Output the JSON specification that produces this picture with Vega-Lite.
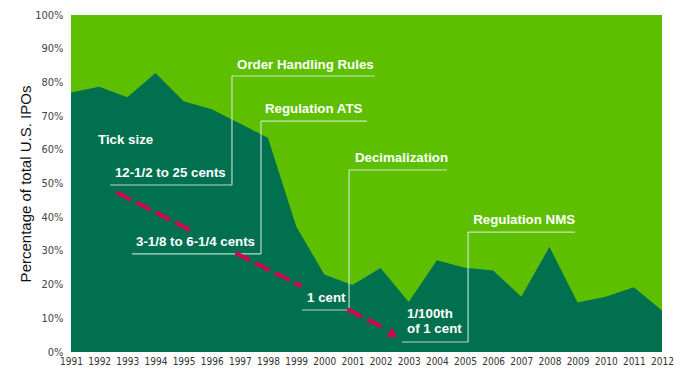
{
  "$schema": "https://vega.github.io/schema/vega-lite/v6.json",
  "width": 591,
  "height": 337,
  "autosize": {"type": "none"},
  "padding": {"left": 71, "top": 15, "right": 19, "bottom": 21},
  "background": "white",
  "config": {
    "view": {"stroke": null},
    "font": "Liberation Sans",
    "axis": {"labelOverlap": false, "labelFlush": false, "grid": false, "domain": false, "ticks": false},
    "axisX": {"labelFontSize": 10, "labelColor": "#333333", "labelPadding": 4, "labelFont": "Liberation Sans Narrow, DejaVu Sans Condensed, Liberation Sans"},
    "axisY": {"labelFontSize": 11, "labelColor": "#444444", "labelPadding": 8, "labelFont": "Liberation Sans Narrow, DejaVu Sans Condensed, Liberation Sans",
      "titleFontSize": 15, "titleFontWeight": "normal", "titleColor": "#111111", "titleFont": "Liberation Sans", "titlePadding": 1}
  },
  "datasets": {
    "ipo": [
      {"year": 1991, "pct": 77, "total": 100},
      {"year": 1992, "pct": 78.7, "total": 100},
      {"year": 1993, "pct": 75.6, "total": 100},
      {"year": 1994, "pct": 82.8, "total": 100},
      {"year": 1995, "pct": 74.4, "total": 100},
      {"year": 1996, "pct": 72, "total": 100},
      {"year": 1997, "pct": 67.8, "total": 100},
      {"year": 1998, "pct": 63.5, "total": 100},
      {"year": 1999, "pct": 37.3, "total": 100},
      {"year": 2000, "pct": 23, "total": 100},
      {"year": 2001, "pct": 19.9, "total": 100},
      {"year": 2002, "pct": 24.9, "total": 100},
      {"year": 2003, "pct": 14.8, "total": 100},
      {"year": 2004, "pct": 27.2, "total": 100},
      {"year": 2005, "pct": 25, "total": 100},
      {"year": 2006, "pct": 24.2, "total": 100},
      {"year": 2007, "pct": 16.4, "total": 100},
      {"year": 2008, "pct": 31.2, "total": 100},
      {"year": 2009, "pct": 14.7, "total": 100},
      {"year": 2010, "pct": 16.4, "total": 100},
      {"year": 2011, "pct": 19.2, "total": 100},
      {"year": 2012, "pct": 12.3, "total": 100}
    ],
    "brackets": [
      {"x1": 1996.72, "x2": 2001.80, "y1": 81.9, "y2": 81.9},
      {"x1": 1996.72, "x2": 1996.72, "y1": 81.9, "y2": 49.55},
      {"x1": 1992.39, "x2": 1996.72, "y1": 49.55, "y2": 49.55},
      {"x1": 1997.75, "x2": 2001.52, "y1": 68.5, "y2": 68.5},
      {"x1": 1997.75, "x2": 1997.75, "y1": 68.5, "y2": 29.1},
      {"x1": 1993.17, "x2": 1997.75, "y1": 29.1, "y2": 29.1},
      {"x1": 2000.88, "x2": 2004.36, "y1": 54.0, "y2": 54.0},
      {"x1": 2000.88, "x2": 2000.88, "y1": 54.0, "y2": 12.46},
      {"x1": 1999.21, "x2": 2000.88, "y1": 12.46, "y2": 12.46},
      {"x1": 2005.11, "x2": 2008.91, "y1": 35.6, "y2": 35.6},
      {"x1": 2005.11, "x2": 2005.11, "y1": 35.6, "y2": 2.97},
      {"x1": 2002.76, "x2": 2005.11, "y1": 2.97, "y2": 2.97}
    ],
    "labels": [
      {"x": 1996.90, "y": 85.2, "text": "Order Handling Rules"},
      {"x": 1992.56, "y": 53.1, "text": "12-1/2 to 25 cents"},
      {"x": 1997.89, "y": 72.1, "text": "Regulation ATS"},
      {"x": 1993.31, "y": 32.6, "text": "3-1/8 to 6-1/4 cents"},
      {"x": 2001.09, "y": 57.6, "text": "Decimalization"},
      {"x": 1999.39, "y": 16.0, "text": "1 cent"},
      {"x": 2005.29, "y": 39.2, "text": "Regulation NMS"},
      {"x": 2002.94, "y": 11.3, "text": "1/100th"},
      {"x": 2002.94, "y": 6.8, "text": "of 1 cent"},
      {"x": 1991.96, "y": 62.9, "text": "Tick size"}
    ],
    "arrow": [
      {"x1": 1992.67, "y1": 47.18, "x2": 1995.19, "y2": 36.35},
      {"x1": 1996.90, "y1": 29.17, "x2": 1999.14, "y2": 19.76},
      {"x1": 2000.88, "y1": 12.43, "x2": 2002.26, "y2": 6.59}
    ],
    "head": [
      {"x": 2002.40, "y": 5.85}
    ]
  },
  "layer": [
    {
      "data": {"name": "ipo"},
      "mark": {"type": "area", "color": "#5dbf00"},
      "encoding": {
        "x": {
          "field": "year", "type": "quantitative",
          "scale": {"domain": [1991, 2012], "nice": false, "zero": false},
          "axis": {"values": [1991,1992,1993,1994,1995,1996,1997,1998,1999,2000,2001,2002,2003,2004,2005,2006,2007,2008,2009,2010,2011,2012], "format": "d", "title": null}
        },
        "y": {
          "field": "total", "type": "quantitative",
          "scale": {"domain": [0, 100], "nice": false},
          "axis": {"values": [0,10,20,30,40,50,60,70,80,90,100], "labelExpr": "datum.value + '%'", "title": "Percentage of total U.S. IPOs"}
        }
      }
    },
    {
      "data": {"name": "ipo"},
      "mark": {"type": "area", "color": "#00704f"},
      "encoding": {
        "x": {"field": "year", "type": "quantitative",
          "axis": {"values": [1991,1992,1993,1994,1995,1996,1997,1998,1999,2000,2001,2002,2003,2004,2005,2006,2007,2008,2009,2010,2011,2012], "format": "d", "title": null}},
        "y": {"field": "pct", "type": "quantitative",
          "axis": {"values": [0,10,20,30,40,50,60,70,80,90,100], "labelExpr": "datum.value + '%'", "title": "Percentage of total U.S. IPOs"}}
      }
    },
    {
      "data": {"name": "brackets"},
      "mark": {"type": "rule", "color": "#d8f0e4", "strokeWidth": 1.2, "opacity": 0.85},
      "encoding": {
        "x": {"field": "x1", "type": "quantitative",
          "axis": {"values": [1991,1992,1993,1994,1995,1996,1997,1998,1999,2000,2001,2002,2003,2004,2005,2006,2007,2008,2009,2010,2011,2012], "format": "d", "title": null}},
        "x2": {"field": "x2"},
        "y": {"field": "y1", "type": "quantitative",
          "axis": {"values": [0,10,20,30,40,50,60,70,80,90,100], "labelExpr": "datum.value + '%'", "title": "Percentage of total U.S. IPOs"}},
        "y2": {"field": "y2"}
      }
    },
    {
      "data": {"name": "labels"},
      "mark": {"type": "text", "align": "left", "baseline": "middle", "color": "white", "fontSize": 13.3, "fontWeight": "bold", "font": "Liberation Sans"},
      "encoding": {
        "x": {"field": "x", "type": "quantitative",
          "axis": {"values": [1991,1992,1993,1994,1995,1996,1997,1998,1999,2000,2001,2002,2003,2004,2005,2006,2007,2008,2009,2010,2011,2012], "format": "d", "title": null}},
        "y": {"field": "y", "type": "quantitative",
          "axis": {"values": [0,10,20,30,40,50,60,70,80,90,100], "labelExpr": "datum.value + '%'", "title": "Percentage of total U.S. IPOs"}},
        "text": {"field": "text"}
      }
    },
    {
      "data": {"name": "arrow"},
      "mark": {"type": "rule", "color": "#d5004e", "strokeWidth": 4, "strokeDash": [13, 9], "strokeCap": "round"},
      "encoding": {
        "x": {"field": "x1", "type": "quantitative",
          "axis": {"values": [1991,1992,1993,1994,1995,1996,1997,1998,1999,2000,2001,2002,2003,2004,2005,2006,2007,2008,2009,2010,2011,2012], "format": "d", "title": null}},
        "x2": {"field": "x2"},
        "y": {"field": "y1", "type": "quantitative",
          "axis": {"values": [0,10,20,30,40,50,60,70,80,90,100], "labelExpr": "datum.value + '%'", "title": "Percentage of total U.S. IPOs"}},
        "y2": {"field": "y2"}
      }
    },
    {
      "data": {"name": "head"},
      "mark": {"type": "point", "shape": "triangle-up", "filled": true, "color": "#d5004e", "size": 120, "opacity": 1},
      "encoding": {
        "x": {"field": "x", "type": "quantitative",
          "axis": {"values": [1991,1992,1993,1994,1995,1996,1997,1998,1999,2000,2001,2002,2003,2004,2005,2006,2007,2008,2009,2010,2011,2012], "format": "d", "title": null}},
        "y": {"field": "y", "type": "quantitative",
          "axis": {"values": [0,10,20,30,40,50,60,70,80,90,100], "labelExpr": "datum.value + '%'", "title": "Percentage of total U.S. IPOs"}}
      }
    }
  ]
}
